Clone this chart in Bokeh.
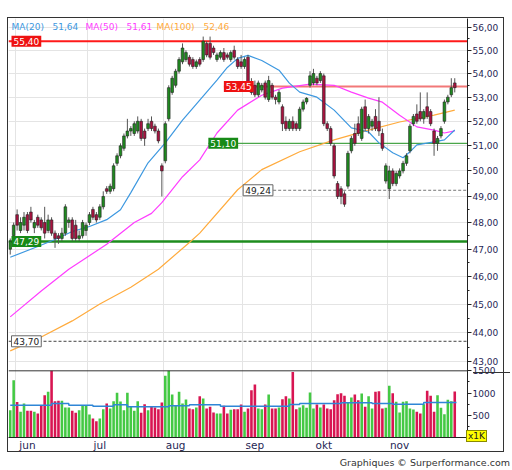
import math
from bokeh.plotting import figure
from bokeh.models import (Range1d, LinearScale, FixedTicker, CustomJSTickFormatter,
                          Span, Label, ColumnDataSource, Div, AllLabels)
from bokeh.layouts import column
from bokeh.embed import file_html
from bokeh.resources import INLINE

# ---------------- data ----------------
opens = [47.00, 47.50, 48.30, 47.70, 47.90, 48.30, 48.40, 47.80, 48.20, 48.10,
         48.00, 47.70, 48.10, 47.60, 47.50, 47.40, 47.60, 48.00, 48.10, 47.90,
         47.40, 47.50, 47.70, 48.00, 48.50, 48.30, 48.20, 48.60, 49.30, 49.20,
         49.30, 50.30, 50.60, 50.90, 51.40, 51.60, 51.50, 51.60, 52.00, 51.60,
         51.70, 52.00, 51.80, 51.60, 50.20, 50.40, 52.10, 53.20, 53.50, 54.10,
         54.50, 54.60, 54.70, 54.60, 54.30, 54.60, 54.60, 55.30, 55.30, 55.10,
         54.60, 54.70, 54.90, 54.80, 54.60, 55.00, 54.60, 54.50, 54.30, 54.70,
         53.60, 53.50, 53.10, 53.30, 53.60, 52.90, 53.50, 53.00, 52.80, 52.60,
         52.00, 51.70, 52.00, 51.90, 51.70, 52.50, 52.80, 53.50, 53.60, 53.80,
         53.70, 53.90, 51.90, 51.70, 51.00, 49.50, 49.30, 49.10, 49.40, 50.80,
         51.50, 51.90, 51.30, 52.60, 51.70, 51.80, 52.20, 52.00, 51.50, 49.60,
         49.30, 50.00, 49.50, 49.80, 50.00, 50.30, 50.80, 51.90, 52.30, 52.40,
         52.10, 52.60, 52.40, 51.60, 51.10, 51.40, 52.00, 52.80, 53.10, 53.60]
highs = [47.40, 48.00, 48.50, 48.20, 48.40, 48.40, 48.60, 48.10, 48.30, 48.20,
         48.60, 48.30, 48.20, 47.70, 47.60, 47.80, 48.70, 48.20, 48.20, 48.10,
         47.70, 48.10, 48.00, 48.40, 48.60, 48.40, 48.70, 49.20, 49.40, 49.50,
         50.30, 50.70, 51.10, 51.50, 52.10, 51.80, 52.00, 52.20, 52.10, 51.70,
         52.10, 52.20, 51.90, 51.70, 50.30, 52.00, 53.50, 53.90, 54.20, 54.70,
         55.30, 55.00, 54.80, 54.70, 54.60, 54.70, 55.60, 55.40, 55.60, 55.20,
         54.90, 55.00, 55.10, 54.90, 55.00, 55.20, 54.70, 54.80, 54.70, 54.80,
         53.80, 53.70, 53.70, 53.60, 53.70, 53.90, 53.60, 53.10, 53.30, 52.70,
         52.20, 52.10, 52.20, 52.00, 52.60, 52.90, 53.00, 54.10, 54.20, 53.90,
         54.10, 54.00, 52.00, 51.80, 51.10, 49.60, 49.40, 49.20, 50.80, 51.40,
         51.90, 52.20, 52.60, 52.90, 52.30, 52.10, 52.50, 53.00, 51.70, 50.30,
         50.20, 50.10, 50.00, 50.10, 50.40, 50.70, 51.90, 52.30, 52.70, 53.20,
         52.50, 53.20, 52.50, 51.70, 51.40, 51.80, 52.90, 53.10, 53.80, 53.80]
lows = [46.80, 47.40, 47.70, 47.60, 47.70, 47.60, 48.00, 47.60, 47.80, 47.70,
        47.40, 47.60, 47.50, 47.05, 47.20, 47.30, 47.50, 47.80, 47.30, 47.30,
        47.30, 47.40, 47.50, 47.90, 48.10, 48.00, 48.10, 48.50, 49.10, 49.10,
        49.20, 50.20, 50.50, 50.80, 51.30, 51.40, 51.40, 51.50, 51.20, 51.00,
        51.60, 51.60, 51.50, 51.10, 49.00, 50.30, 52.00, 53.10, 53.40, 54.00,
        54.40, 54.50, 54.30, 54.20, 54.20, 54.30, 54.50, 54.70, 54.60, 54.80,
        54.50, 54.60, 54.50, 54.60, 54.50, 54.60, 54.20, 54.20, 54.20, 53.30,
        53.10, 53.00, 53.00, 53.20, 52.90, 52.80, 52.90, 52.70, 52.70, 51.60,
        51.60, 51.60, 51.60, 51.60, 51.60, 52.40, 52.70, 53.40, 53.50, 53.50,
        53.60, 51.80, 51.60, 51.00, 49.70, 48.90, 48.70, 48.60, 49.30, 50.70,
        51.00, 51.40, 51.20, 51.60, 51.50, 51.60, 51.60, 51.40, 50.80, 49.50,
        48.90, 49.40, 49.40, 49.70, 49.90, 50.20, 50.70, 51.80, 51.90, 52.00,
        51.90, 52.10, 51.80, 50.60, 50.80, 51.30, 51.90, 52.70, 53.00, 53.20]
closes = [47.30, 47.90, 47.90, 48.00, 48.20, 47.70, 48.10, 48.00, 47.90, 47.80,
          47.60, 48.10, 47.60, 47.40, 47.40, 47.60, 48.60, 48.10, 47.40, 47.40,
          47.50, 48.00, 47.90, 48.30, 48.20, 48.10, 48.60, 49.00, 49.20, 49.40,
          50.20, 50.60, 51.00, 51.40, 51.60, 51.70, 51.90, 52.00, 51.30, 51.30,
          51.90, 51.70, 51.60, 51.20, 50.00, 51.90, 53.40, 53.80, 54.10, 54.60,
          55.10, 54.90, 54.40, 54.30, 54.50, 54.40, 55.40, 54.80, 54.70, 54.90,
          54.80, 54.90, 54.60, 54.70, 54.90, 54.70, 54.30, 54.30, 54.60, 53.40,
          53.20, 53.10, 53.60, 53.50, 53.00, 53.70, 53.00, 52.90, 53.20, 51.90,
          51.70, 52.00, 51.70, 51.70, 52.50, 52.80, 52.95, 53.90, 54.00, 53.60,
          54.00, 51.90, 51.70, 51.10, 49.80, 49.00, 49.00, 48.70, 50.70, 51.30,
          51.10, 51.50, 52.50, 51.70, 52.20, 52.00, 51.70, 51.60, 50.90, 50.20,
          50.00, 49.50, 49.90, 50.00, 50.30, 50.60, 51.80, 52.20, 52.00, 52.10,
          52.40, 52.20, 51.90, 51.10, 51.30, 51.70, 52.80, 53.00, 53.40, 53.40]
volumes = [615, 1290, 800, 578, 765, 600, 600, 578, 540, 728,
           952, 1028, 1500, 818, 825, 825, 675, 675, 600, 555,
           615, 728, 728, 518, 428, 368, 428, 638, 765, 652,
           818, 1005, 810, 615, 1005, 690, 600, 818, 555, 750,
           615, 690, 675, 638, 788, 1388, 1500, 968, 712, 1028,
           765, 855, 652, 638, 675, 930, 878, 652, 690, 562,
           540, 540, 712, 540, 622, 638, 638, 742, 578, 652,
           1065, 1192, 652, 638, 742, 968, 652, 652, 675, 862,
           930, 878, 1475, 638, 675, 728, 668, 1013, 652, 742,
           675, 742, 652, 638, 840, 975, 998, 938, 788, 900,
           968, 840, 990, 690, 930, 652, 1028, 1043, 652, 668,
           1163, 998, 802, 562, 802, 818, 652, 630, 578, 540,
           750, 1050, 938, 578, 952, 668, 525, 848, 818, 1035]

# average volume (piecewise): segment start days and values
vol_avg_day = [0, 12, 17, 24, 30, 34, 46, 52, 61, 81, 84, 96, 105, 111, 120, 129.5]
vol_avg_val = [728, 765, 728, 705, 735, 690, 712, 735, 705, 742, 765, 780, 765, 750, 788, 788]

# moving averages
ma20_day = [0, 8, 13, 18, 23, 28, 32, 35, 40, 45, 50, 55, 60, 63, 66, 69, 73, 78, 81, 84,
            89, 94, 99, 104, 107, 111, 114, 116, 118, 123, 126, 129]
ma20_val = [46.70, 47.10, 47.36, 47.66, 47.85, 48.11, 48.49, 49.15, 50.32, 51.12, 52.05,
            52.88, 53.72, 54.26, 54.65, 54.78, 54.56, 54.14, 53.59, 53.21, 53.00, 52.46,
            51.73, 51.56, 51.12, 50.72, 50.52, 50.76, 51.04, 51.16, 51.24, 51.64]
ma50_day = [0, 9, 17, 28, 36, 41, 44, 50, 55, 60, 66, 73, 79, 87, 94, 99, 104, 108, 113,
            118, 123, 126, 129]
ma50_val = [44.55, 45.47, 46.26, 47.18, 48.00, 48.35, 48.76, 49.77, 50.44, 51.52, 52.46,
            53.08, 53.38, 53.55, 53.50, 53.21, 52.96, 52.79, 52.25, 51.77, 51.64, 51.52, 51.61]
ma100_day = [0, 9, 18, 26, 35, 43, 52, 55, 66, 73, 84, 94, 104, 113, 123, 129]
ma100_val = [43.37, 43.85, 44.41, 45.01, 45.61, 46.26, 47.25, 47.60, 49.26, 50.05, 50.76,
             51.24, 51.64, 51.97, 52.25, 52.46]

legend_names = ["MA(20)", "MA(50)", "MA(100)"]
legend_last = [51.64, 51.61, 52.46]

# horizontal levels: price and first day
levels = [55.40, 53.45, 51.10, 49.24, 47.29, 43.70]
level_day = [None, 62, 57.5, 67.6, None, None]

month_names = ["jun", "jul", "aug", "sep", "okt", "nov"]
month_first_day = [2, 23, 45, 68, 88, 110]

price_ticks = [43, 44, 45, 46, 47, 48, 49, 50, 51, 52, 53, 54, 55, 56]
vol_ticks = [500, 1000, 1500]
vol_minor = [250, 750, 1250]
vol_unit = "x1K"
credit_text = "Graphiques © Surperformance.com"

# ---------------- styling ----------------
FONT = "DejaVu Sans"
TXT = "#1f1f55"
UP_BODY, DN_BODY, WICK, BODY_LINE = "#1f8a1f", "#a8123f", "#555555", "#222222"
VOL_UP, VOL_DN = "#44c944", "#d81552"
MA_COLORS = ["#3d98e0", "#ff3dff", "#ffab3d"]

X_START, X_END = -0.5, 132.7
P_LO, P_HI = 40.50, 56.40
VOL_TOP = 9425.0

n = len(closes)
idx = list(range(n))
up = [c >= o for o, c in zip(opens, closes)]
src = ColumnDataSource(dict(
    x=idx, o=opens, h=highs, l=lows, c=closes,
    top=[max(o, c) for o, c in zip(opens, closes)],
    bottom=[min(o, c) for o, c in zip(opens, closes)],
    body=[UP_BODY if u else DN_BODY for u in up],
    vol=volumes,
    vcol=[VOL_UP if u else VOL_DN for u in up],
))

p = figure(width=497, height=435,
           x_range=Range1d(X_START, X_END), y_range=Range1d(P_LO, P_HI),
           y_axis_type="log", y_axis_location="right",
           output_backend="svg", toolbar_location=None,
           min_border_left=0, min_border_right=38, min_border_top=0, min_border_bottom=14,
           background_fill_color="white", border_fill_color="white",
           outline_line_color=None,
           margin=(17, 0, 0, 7),
           styles={"border": "1px solid #333333"})
p.extra_y_ranges = {"vol": Range1d(0, VOL_TOP)}
p.extra_y_scales = {"vol": LinearScale()}

# grids
p.xgrid.ticker = FixedTicker(ticks=[d - 0.5 for d in month_first_day])
p.xgrid.grid_line_color = "#e4e4e4"
p.ygrid.ticker = FixedTicker(ticks=price_ticks)
p.ygrid.grid_line_color = "#e4e4e4"

# x axis (months)
p.xaxis.ticker = FixedTicker(ticks=[d + 3 for d in month_first_day])
p.xaxis.major_label_overrides = {d + 3: m for d, m in zip(month_first_day, month_names)}
p.xaxis.major_tick_out = 0
p.xaxis.major_tick_in = 0
p.xaxis.minor_tick_out = 0
p.xaxis.major_label_standoff = 1
p.xaxis.major_label_text_font = FONT
p.xaxis.major_label_text_font_size = "10.5px"
p.xaxis.major_label_text_color = TXT
p.xaxis.axis_line_color = "#222222"


def vol_to_price(v):
    f = v / VOL_TOP
    return math.exp(math.log(P_LO) + f * (math.log(P_HI) - math.log(P_LO)))


p.yaxis.ticker = FixedTicker(
    ticks=price_ticks + [vol_to_price(v) for v in vol_ticks],
    minor_ticks=[t + 0.5 for t in price_ticks[:-1]] + [vol_to_price(v) for v in vol_minor])
p.yaxis.formatter = CustomJSTickFormatter(
    args=dict(lo=P_LO, hi=P_HI, vtop=VOL_TOP, split=42.85),
    code="""
if (tick > split) { return tick.toFixed(2).replace('.', ','); }
const f = (Math.log(tick) - Math.log(lo)) / (Math.log(hi) - Math.log(lo));
return String(Math.round(f * vtop));
""")
p.yaxis.major_label_policy = AllLabels()
p.yaxis.major_tick_out = 4
p.yaxis.major_tick_in = 0
p.yaxis.minor_tick_out = 2
p.yaxis.minor_tick_in = 0
p.yaxis.major_label_standoff = 1
p.yaxis.major_label_text_font = FONT
p.yaxis.major_label_text_font_size = "9px"
p.yaxis.major_label_text_color = TXT
p.yaxis.axis_line_color = "#222222"
p.yaxis.major_tick_line_color = "#222222"
p.yaxis.minor_tick_line_color = "#222222"

# volume panel
p.vbar(x="x", width=0.75, top="vol", bottom=0, fill_color="vcol", line_color=None,
       source=src, y_range_name="vol")
p.step(x=vol_avg_day, y=vol_avg_val, mode="after", line_color="#2f86d6", line_width=1.5,
       y_range_name="vol")
p.add_layout(Span(location=1500, dimension="width", y_range_name="vol",
                  line_color="#333333", line_width=1))

# levels
lv_color = ["#ff1a1a", "#f27878", "#4aa64a", "#777777", "#1d8c1d", "#444444"]
lv_width = [2, 2, 1.2, 1, 2.5, 1]
lv_dash = ["solid", "solid", "solid", "3 2", "solid", "3 2"]
lb_bg = ["#ee1111", "#ee1111", "#178a17", "white", "#178a17", "white"]
lb_txt = ["white", "white", "white", "#222222", "white", "#222222"]
lb_border = [None, None, None, "#666666", None, "#666666"]
for k, (lv, d) in enumerate(zip(levels, level_day)):
    x0 = X_START if d is None else d
    p.segment(x0=[x0], y0=[lv], x1=[X_END], y1=[lv], line_color=lv_color[k],
              line_width=lv_width[k], line_dash=lv_dash[k])

# moving averages
for xs, ys, col in ((ma100_day, ma100_val, MA_COLORS[2]),
                    (ma50_day, ma50_val, MA_COLORS[1]),
                    (ma20_day, ma20_val, MA_COLORS[0])):
    p.line(xs, ys, line_color=col, line_width=1.2)

# candles
p.segment(x0="x", y0="l", x1="x", y1="h", line_color=WICK, line_width=1, source=src)
p.vbar(x="x", width=0.78, top="top", bottom="bottom", fill_color="body",
       line_color=BODY_LINE, line_width=0.6, source=src)

# level labels
for k, (lv, d) in enumerate(zip(levels, level_day)):
    x0 = X_START if d is None else d
    p.add_layout(Label(x=x0, y=lv, x_offset=3 if d is None else 0,
                       text=f"{lv:.2f}".replace(".", ","),
                       text_font=FONT, text_font_size="9px", text_color=lb_txt[k],
                       text_align="left", text_baseline="middle",
                       background_fill_color=lb_bg[k], border_line_color=lb_border[k],
                       padding=2))

# top legend
leg_x = [3, 44, 77, 118, 148, 195]
texts = []
for name, last, col in zip(legend_names, legend_last, MA_COLORS):
    texts.append((name, col))
    texts.append((f"{last:.2f}".replace(".", ","), col))
for (t, col), xo in zip(texts, leg_x):
    p.add_layout(Label(x=X_START, y=P_HI, x_offset=xo, y_offset=-8, text=t,
                       text_font=FONT, text_font_size="9px", text_color=col,
                       text_align="left", text_baseline="middle"))

# credits line, with the volume-unit tag and the panel separator stub lifted into the
# axis area above it
tag_html = ('<span style="position:absolute; left:461px; top:-27px; background:#ffff00; '
            'border:1px solid #8a8a00; color:#222222; font-size:9px; line-height:10px; '
            'padding:0 1px;">' + vol_unit + '</span>'
            '<span style="position:absolute; left:468px; top:-85px; width:37px; height:0; '
            'border-top:1px solid #333333;"></span>')
credits = Div(text=tag_html + credit_text, width=505, height=12,
              styles={"position": "relative", "text-align": "right", "font-family": FONT,
                      "font-size": "9.5px", "color": "#333333", "line-height": "12px",
                      "overflow": "visible"})

layout = column(p, credits)

open("out.html", "w").write(file_html(layout, INLINE))
